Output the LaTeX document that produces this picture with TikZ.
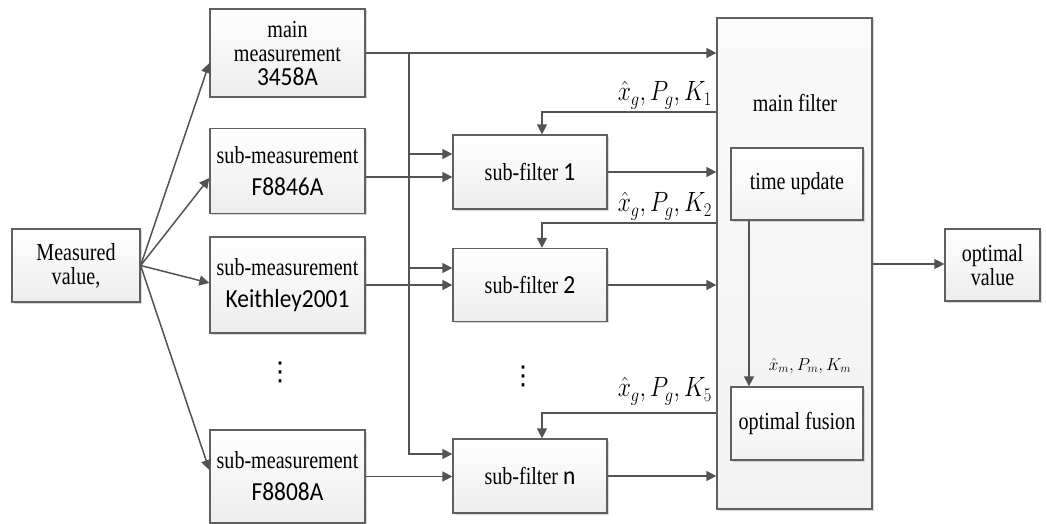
\documentclass[tikz,border=0pt]{standalone}
\usepackage{fontspec}
\setmainfont{Liberation Serif}[FakeStretch=0.82]
\newfontfamily\carl{Carlito}[FakeStretch=0.9]
\newfontfamily\dejavu{DejaVu Sans}
\usetikzlibrary{arrows.meta,shadows,calc}
\begin{document}
\begin{tikzpicture}[x=1pt,y=-1pt,
  box/.style={draw=gray!75!black, line width=1.3pt, top color=white, bottom color=gray!14,
    drop shadow={shadow xshift=1.5pt,shadow yshift=-1.5pt,fill=gray!60,opacity=0.5},
    align=center, inner sep=0pt, font=\fontsize{24.5}{24}\selectfont},
  innerbox/.style={box, top color=white, bottom color=white!90!gray},
  line/.style={draw=gray!65!black, line width=1.5pt},
  arr/.style={line, -{Triangle[length=10pt,width=10pt]}, color=gray!65!black},
  lab/.style={inner sep=1pt, font=\fontsize{24}{28}\selectfont},
  vdots/.style={font=\dejavu\fontsize{26}{26}\selectfont, inner sep=0pt}
]
\newcommand{\mdl}[1]{{\carl\fontsize{26}{28}\selectfont #1}}
\useasboundingbox (0,0) rectangle (1046,524);

% boxes
\node[box, minimum width=128pt, minimum height=73pt] (mv) at (76,265.5) {Measured\\value,};
\node[box, minimum width=155pt, minimum height=88pt, font=\fontsize{24.5}{23}\selectfont] (mm) at (287.5,53)
  {main\\[1pt]measurement\\[1pt]\mdl{3458A}};
\node[box, minimum width=155pt, minimum height=85pt] (f46) at (287.5,171)
  {sub-measurement\\[8pt]\mdl{F8846A}};
\node[box, minimum width=155pt, minimum height=96pt] (kei) at (287.5,285)
  {sub-measurement\\[8pt]\mdl{Keithley2001}};
\node[box, minimum width=155pt, minimum height=93pt] (f08) at (287.5,476.5)
  {sub-measurement\\[8pt]\mdl{F8808A}};

\node[box, minimum width=154pt, minimum height=74pt] (sf1) at (530,172)
  {sub-filter \mdl{1}};
\node[box, minimum width=154pt, minimum height=73pt] (sf2) at (530,285)
  {sub-filter \mdl{2}};
\node[box, minimum width=154pt, minimum height=74pt] (sfn) at (530,476)
  {sub-filter \mdl{n}};

\node[box, top color=gray!4, bottom color=gray!10, minimum width=155pt, minimum height=491pt] (mf) at (794.5,263.5) {};
\node[font=\fontsize{24.5}{24}\selectfont, inner sep=0pt] (mft) at (795,103) {main filter};
\node[innerbox, minimum width=132pt, minimum height=72pt] (tu) at (797,184) {time update};
\node[innerbox, minimum width=132pt, minimum height=73pt] (of) at (797,423.5) {optimal fusion};

\node[box, minimum width=95pt, minimum height=72pt] (ov) at (992.5,265) {optimal\\value};

% dots
\node[vdots] (d1) at (280,372) {⋮};
\node[vdots] (d2) at (523,376) {⋮};

% measured value to measurement boxes
\coordinate (src) at (mv.east);
\draw[arr] (src) -- ([yshift=-10pt]mm.west);
\draw[arr] (src) -- ([yshift=-7pt]f46.west);
\draw[arr] (src) -- ([yshift=2pt]kei.west);
\draw[arr] (src) -- ([yshift=6.5pt]f08.west);

% main measurement and bus
\draw[arr] (mm.east) -- (mm.east -| mf.west);
\coordinate (b0) at (409,53);
\draw[arr] (b0) |- ([yshift=22pt]sfn.west);
\draw[arr] ([yshift=18pt]sf1.west -| b0) -- ([yshift=18pt]sf1.west);
\draw[arr] ([yshift=17pt]sf2.west -| b0) -- ([yshift=17pt]sf2.west);

% sub-measurements to sub-filters
\draw[arr] ([yshift=-6pt]f46.east) -- ([yshift=-6pt]f46.east -| sf1.west);
\draw[arr] (kei.east) -- (kei.east -| sf2.west);
\draw[arr] (f08.east) -- (f08.east -| sfn.west);

% sub-filters to main filter
\draw[arr] (sf1.east) -- (sf1.east -| mf.west);
\draw[arr] (sf2.east) -- (sf2.east -| mf.west);
\draw[arr] (sfn.east) -- (sfn.east -| mf.west);

% feedback
\draw[arr] ([yshift=151.5pt]mf.west) -| ([xshift=12pt]sf1.north);
\draw[arr] ([yshift=40.5pt]mf.west) -| ([xshift=12pt]sf2.north);
\draw[arr] ([yshift=-149.5pt]mf.west) -| ([xshift=12pt]sfn.north);
\node[lab, anchor=south east] (l1) at (713,110) {\scalebox{0.95}[1.12]{$\hat{x}_g,P_g,K_1$}};
\node[lab, anchor=south east] (l2) at (713,221) {\scalebox{0.95}[1.12]{$\hat{x}_g,P_g,K_2$}};
\node[lab, anchor=south east] (l3) at (713,406) {\scalebox{0.95}[1.12]{$\hat{x}_g,P_g,K_5$}};

% inside main filter
\draw[arr] ([xshift=-48pt]tu.south) -- ([xshift=-48pt]of.north);
\node[inner sep=0pt, font=\fontsize{18}{20}\selectfont] (lm) at (810,366) {$\hat{x}_m,P_m,K_m$};

% output
\draw[arr] ([yshift=-0.5pt]mf.east) -- ([yshift=-0.5pt]mf.east -| ov.west);
\end{tikzpicture}
\end{document}
